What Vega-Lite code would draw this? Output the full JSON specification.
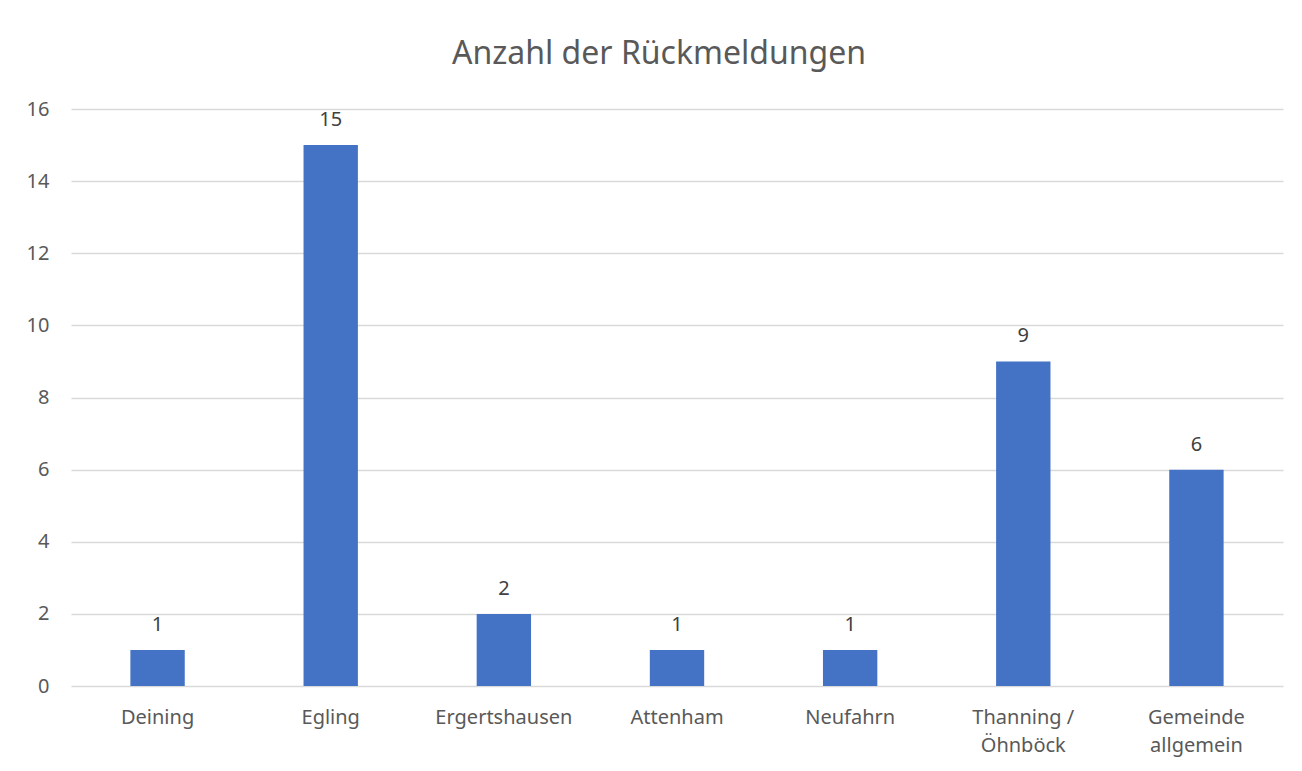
{
  "$schema": "https://vega.github.io/schema/vega-lite/v6.json",
  "width": 1212,
  "height": 577,
  "autosize": {"type": "none"},
  "padding": {"left": 71, "top": 109, "right": 19, "bottom": 85},
  "background": "white",
  "title": {
    "text": "Anzahl der Rückmeldungen",
    "font": "Noto Sans",
    "fontSize": 32,
    "fontWeight": "normal",
    "color": "#595959",
    "anchor": "middle",
    "dx": -18,
    "offset": 28
  },
  "config": {
    "view": {"stroke": null},
    "font": "Noto Sans"
  },
  "data": {
    "values": [
      {"Ort": "Deining", "Anzahl": 1},
      {"Ort": "Egling", "Anzahl": 15},
      {"Ort": "Ergertshausen", "Anzahl": 2},
      {"Ort": "Attenham", "Anzahl": 1},
      {"Ort": "Neufahrn", "Anzahl": 1},
      {"Ort": "Thanning /\nÖhnböck", "Anzahl": 9},
      {"Ort": "Gemeinde\nallgemein", "Anzahl": 6}
    ]
  },
  "encoding": {
    "x": {
      "field": "Ort",
      "type": "nominal",
      "sort": null,
      "scale": {"paddingInner": 0.686, "paddingOuter": 0.343},
      "axis": {
        "title": null,
        "labelAngle": 0,
        "labelExpr": "split(datum.label, '\\n')",
        "labelFont": "Noto Sans",
        "labelFontSize": 20,
        "labelColor": "#595959",
        "labelPadding": 21,
        "labelLineHeight": 28,
        "ticks": false,
        "domain": false,
        "grid": false
      }
    },
    "y": {
      "field": "Anzahl",
      "type": "quantitative",
      "scale": {"domain": [0, 16], "nice": false},
      "axis": {
        "title": null,
        "values": [0, 2, 4, 6, 8, 10, 12, 14, 16],
        "labelFont": "Noto Sans",
        "labelFontSize": 20,
        "labelColor": "#595959",
        "labelPadding": 22,
        "ticks": false,
        "domain": false,
        "grid": true,
        "gridColor": "#d9d9d9",
        "gridWidth": 1.3
      }
    }
  },
  "layer": [
    {"mark": {"type": "bar", "color": "#4472C4"}},
    {
      "mark": {"type": "text", "baseline": "bottom", "dy": -15, "fontSize": 20, "color": "#404040", "font": "Noto Sans"},
      "encoding": {"text": {"field": "Anzahl", "type": "quantitative"}}
    }
  ]
}
